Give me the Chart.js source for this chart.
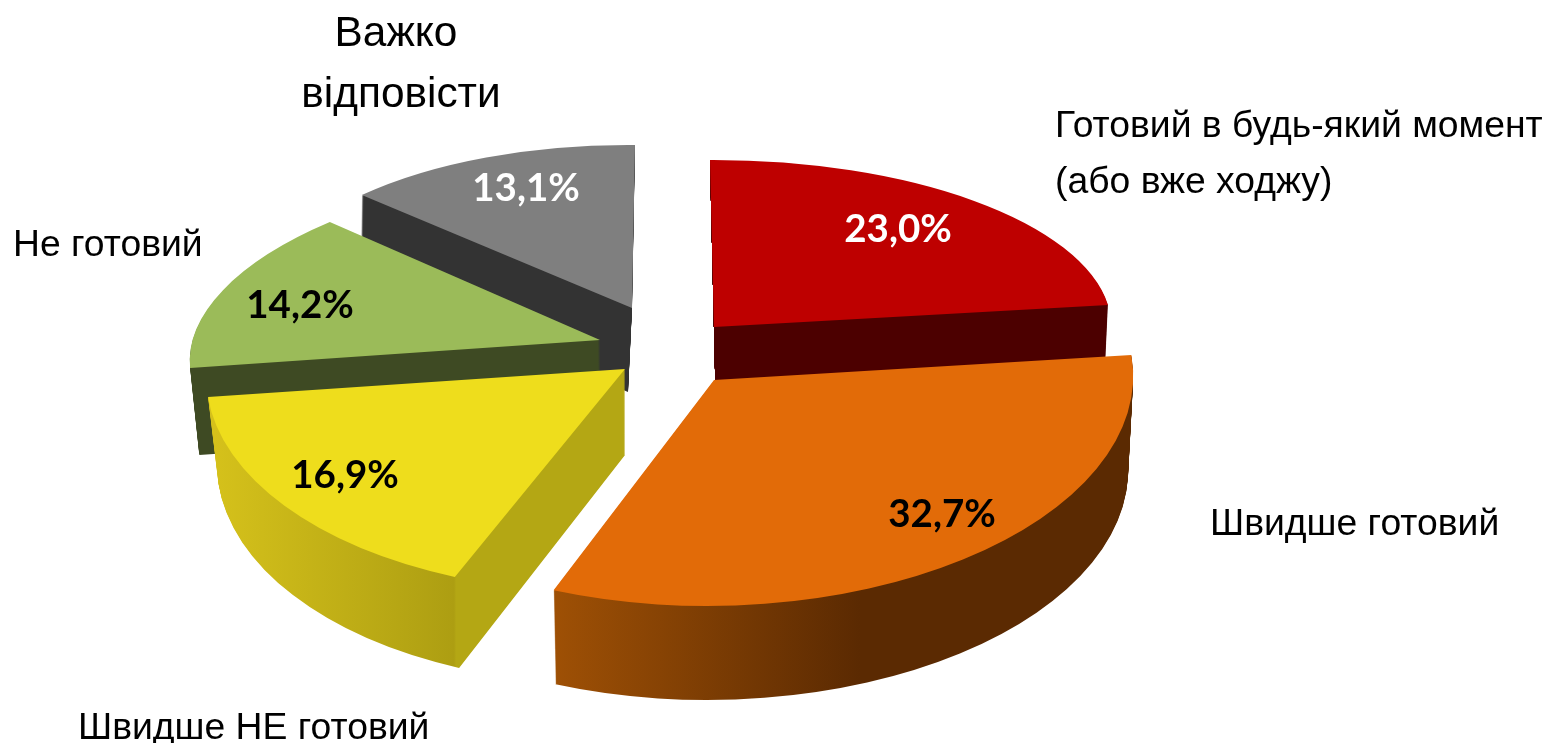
<!DOCTYPE html>
<html>
<head>
<meta charset="utf-8">
<style>html,body{margin:0;padding:0;background:#fff}#wrap{width:1550px;height:743px}canvas{display:block}</style>
<script src="https://cdn.jsdelivr.net/npm/chart.js@4"></script>
</head>
<body>
<div id="wrap"><canvas id="c" width="1550" height="743"></canvas></div>
<script>
// ---- data ----
const categories = ["Готовий в будь-який момент (або вже ходжу)", "Швидше готовий", "Швидше НЕ готовий", "Не готовий", "Важко відповісти"];
const values = [23.0, 32.7, 16.9, 14.2, 13.1];
const valueLabels = ["23,0%", "32,7%", "16,9%", "14,2%", "13,1%"];
const topColors = ["#BE0000", "#E26B08", "#EEDD1C", "#9BBB59", "#7F7F7F"];
const textColors = ["#fff", "#000", "#000", "#000", "#fff"];

// ---- 3D pose of each exploded slice: where its tip lands and how its unit circle is tilted ----
const tipX = [714, 714, 625, 600, 632];
const tipY = [327, 380, 369, 340, 308];
const poseA = [397.6, 419, 418, 408, 371];
const poseB = [-1.4, 3, 4.8, -2.3, 3];
const poseC = [4, -13, -23.8, -43, -3];
const poseD = [167, 226, 224.2, 176, 163];
const wallDepth = [85, 94, 86, 87, 84];
const wallDrift = [2, 0, 0, 1, -4];
const wallShrink = [0.985, 0.988, 0.975, 0.98, 0.99];
const wallGrow = [0, 0, 0.024, 0, 0];
const wallStops = [
  [[0, "#4C0000"], [1, "#4C0000"]],
  [[0, "#9E5005"], [1, "#5B2A02"]],
  [[0, "#D6C21B"], [0.59, "#AD9E12"], [0.595, "#B4A714"], [1, "#B4A714"]],
  [[0, "#3E4A23"], [1, "#3E4A23"]],
  [[0, "#333333"], [1, "#333333"]]
];
const wallSpan = [[714, 1110], [556, 860], [208, 625], [190, 600], [362, 632]];
const drawOrder = [4, 3, 0, 2, 1];

// ---- text placement ----
const labelFont = '37.3px "Liberation Sans", Arial, sans-serif';
const bigLabelFont = '42.4px "Liberation Sans", Arial, sans-serif';
const valueFont = 'bold 38.5px Lato, "Open Sans", sans-serif';
const categoryLines = [
  [["Готовий в будь-який момент", 1055, 127, "left", labelFont], ["(або вже ходжу)", 1055, 183, "left", labelFont]],
  [["Швидше готовий", 1210, 525, "left", labelFont]],
  [["Швидше НЕ готовий", 78, 729, "left", labelFont]],
  [["Не готовий", 13, 246, "left", labelFont]],
  [["Важко", 396, 34, "center", bigLabelFont], ["відповісти", 401, 95, "center", bigLabelFont]]
];
const valueSpots = [[898, 230], [942, 515], [345, 476], [300, 306], [526, 189]];

const optionKeys = ["offset","spacing","borderAlign","borderWidth","borderColor","borderJoinStyle","borderRadius","borderDash","borderDashOffset","circular","selfJoin"];

function drawWithFill(el, ctx, fill) {
  const saved = el.options, o = {};
  optionKeys.forEach(k => { o[k] = saved[k]; });
  o.backgroundColor = fill;
  el.options = o;
  el.draw(ctx);
  el.options = saved;
}
function applyPose(ctx, el, i, dx, dy, sx, sy) {
  const k = 1 / el.outerRadius;
  ctx.translate(tipX[i] + dx, tipY[i] + dy);
  ctx.transform(poseA[i] * k * sx, poseB[i] * k * sy, poseC[i] * k * sx, poseD[i] * k * sy, 0, 0);
  ctx.translate(-el.x, -el.y);
}
// A gradient in the slice's local space whose colour only changes with on-screen x.
function screenGradient(ctx, el, i, dx, sx) {
  const a = poseA[i] * sx / el.outerRadius, c = poseC[i] * sx / el.outerRadius;
  const m = a * a + c * c;
  const px = s => el.x + a * (s - tipX[i] - dx) / m;
  const py = s => el.y + c * (s - tipX[i] - dx) / m;
  const s0 = wallSpan[i][0], s1 = wallSpan[i][1];
  const g = ctx.createLinearGradient(px(s0), py(s0), px(s1), py(s1));
  wallStops[i].forEach(s => g.addColorStop(s[0], s[1]));
  return g;
}

const pie3d = {
  id: "pie3d",
  beforeDatasetDraw(chart) {
    const ctx = chart.ctx, arcs = chart.getDatasetMeta(0).data;
    drawOrder.forEach(i => {
      const el = arcs[i];
      const n = wallDepth[i];
      for (let d = n; d >= 1; d--) {
        const t = d / n;
        const sx = 1 - (1 - wallShrink[i]) * t;
        const sy = 1 + wallGrow[i] * t;
        const dx = wallDrift[i] * t;
        ctx.save();
        applyPose(ctx, el, i, dx, d, sx, sy);
        drawWithFill(el, ctx, screenGradient(ctx, el, i, dx, sx));
        ctx.restore();
      }
      ctx.save();
      applyPose(ctx, el, i, 0, 0, 1, 1);
      drawWithFill(el, ctx, topColors[i]);
      ctx.restore();
    });
    return false;
  },
  afterDatasetsDraw(chart) {
    const ctx = chart.ctx;
    ctx.save();
    ctx.textBaseline = "middle";
    ctx.fillStyle = "#000";
    categoryLines.forEach(lines => lines.forEach(l => {
      ctx.font = l[4];
      ctx.textAlign = l[3];
      ctx.fillText(l[0], l[1], l[2]);
    }));
    ctx.textAlign = "center";
    ctx.font = valueFont;
    valueLabels.forEach((t, i) => {
      ctx.fillStyle = textColors[i];
      ctx.fillText(t, valueSpots[i][0], valueSpots[i][1]);
    });
    ctx.restore();
  }
};

new Chart(document.getElementById("c"), {
  type: "pie",
  data: { labels: categories, datasets: [{ data: values, backgroundColor: topColors, borderWidth: 0 }] },
  options: {
    responsive: false,
    animation: false,
    events: [],
    plugins: { legend: { display: false }, tooltip: { enabled: false } }
  },
  plugins: [pie3d]
});
</script>
</body>
</html>
